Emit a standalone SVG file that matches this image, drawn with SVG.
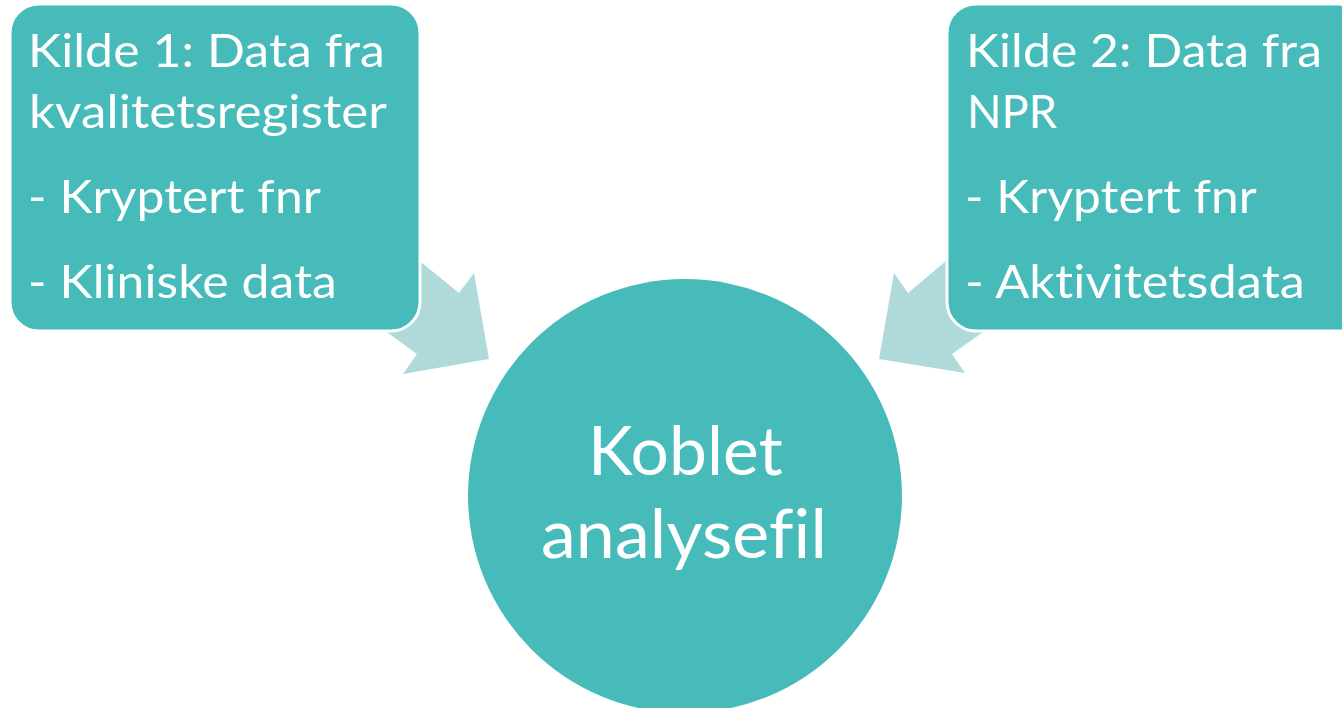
<svg xmlns="http://www.w3.org/2000/svg" width="1342" height="708" viewBox="0 0 1342 708">
<style>
.box{fill:#46bbb9;stroke:#ffffff;stroke-width:3}
.arrow{fill:#b0dada}
.t{font-family:Lato,"Open Sans","Liberation Sans",sans-serif;fill:#ffffff;font-size:47px;font-variant-ligatures:none;font-feature-settings:"liga" 0;letter-spacing:0.1px}
.c{font-family:Lato,"Open Sans","Liberation Sans",sans-serif;fill:#ffffff;font-size:68px;font-variant-ligatures:none;font-feature-settings:"liga" 0;letter-spacing:0.1px}
</style>
<rect width="1342" height="708" fill="#ffffff"/>
<g id="connectors">
<polygon class="arrow" points="400,245 459,293 474,273 489,359 403,374 417,354 370,320"/>
<polygon class="arrow" points="965,245 908,293 894,273 879,359 965,373 952,354 1000,320"/>
</g>
<g id="node-kilde1">
<rect class="box" x="10" y="4" width="410" height="327" rx="29" ry="29"/>
<text class="t" x="28" y="67" textLength="357" lengthAdjust="spacingAndGlyphs">Kilde 1: Data fra</text>
<text class="t" x="29" y="128" textLength="358" lengthAdjust="spacingAndGlyphs">kvalitetsregister</text>
<text class="t" x="28" y="213" textLength="293" lengthAdjust="spacingAndGlyphs">- Kryptert fnr</text>
<text class="t" x="28" y="298" textLength="309" lengthAdjust="spacingAndGlyphs">- Kliniske data</text>
</g>
<g id="node-kilde2">
<rect class="box" x="947" y="4" width="420" height="327" rx="29" ry="29"/>
<text class="t" x="966" y="67" textLength="356" lengthAdjust="spacingAndGlyphs">Kilde 2: Data fra</text>
<text class="t" x="967" y="128" textLength="90" lengthAdjust="spacingAndGlyphs">NPR</text>
<text class="t" x="965" y="213" textLength="292" lengthAdjust="spacingAndGlyphs">- Kryptert fnr</text>
<text class="t" x="965" y="298" textLength="340" lengthAdjust="spacingAndGlyphs">- Aktivitetsdata</text>
</g>
<g id="node-koblet">
<circle cx="685" cy="496" r="217" fill="#46bbb9"/>
<text class="c" x="588" y="475" textLength="195" lengthAdjust="spacingAndGlyphs">Koblet</text>
<text class="c" x="541" y="558" textLength="286" lengthAdjust="spacingAndGlyphs">analysefil</text>
</g>
</svg>
